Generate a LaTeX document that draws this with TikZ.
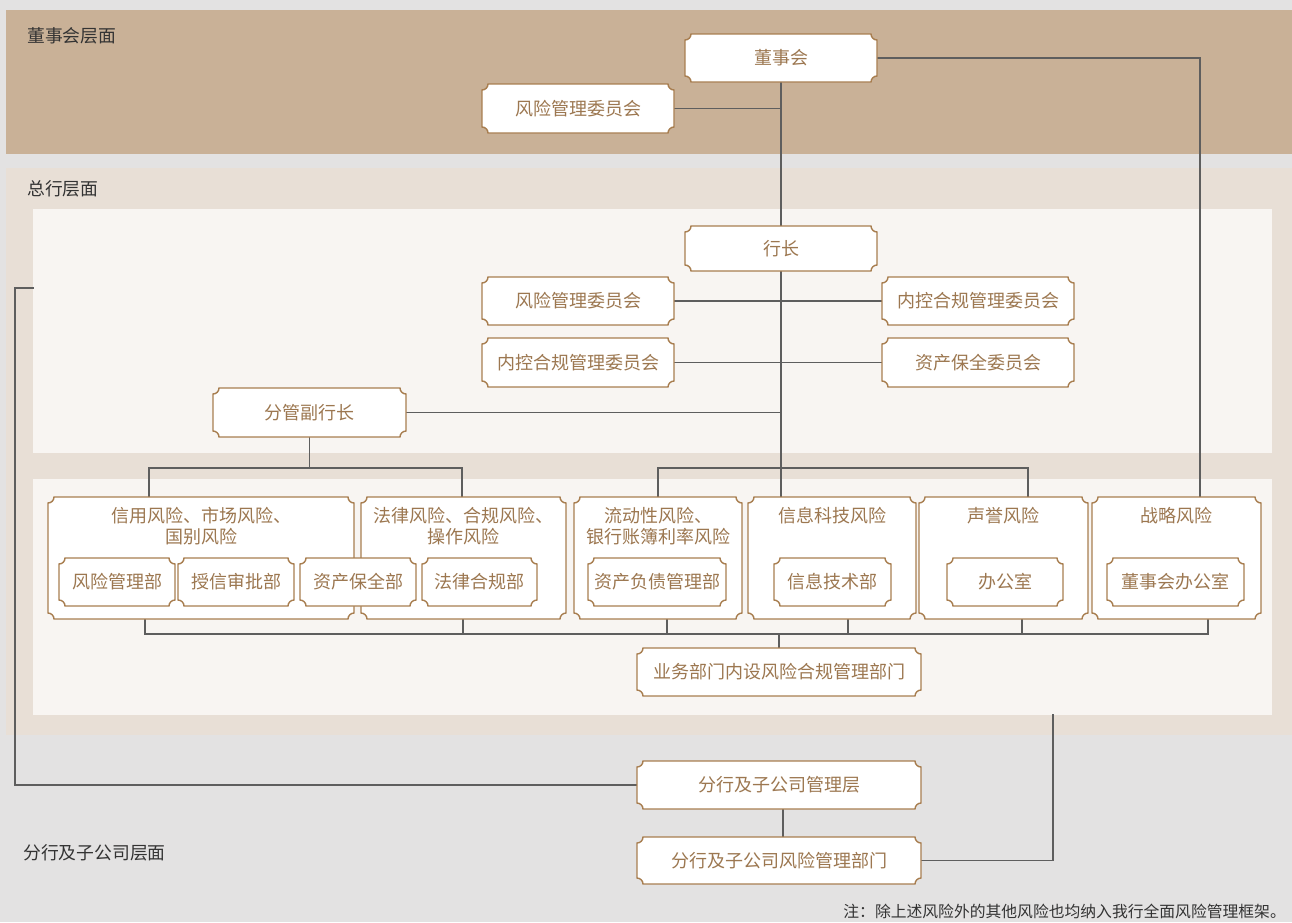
\documentclass[tikz,border=0pt]{standalone}
\usepackage{fontspec}
\setmainfont{Noto Sans CJK SC}
\usetikzlibrary{calc}
\definecolor{pagebg}{HTML}{E3E2E2}
\definecolor{boardbg}{HTML}{C9B197}
\definecolor{hqbg}{HTML}{E8DFD6}
\definecolor{panelbg}{HTML}{F8F5F2}
\definecolor{bxline}{HTML}{A87E50}
\definecolor{bxtext}{HTML}{9C7750}
\definecolor{conn}{HTML}{5E5E5E}
\definecolor{lbl}{HTML}{333333}
\pgfdeclarelayer{bg}
\pgfdeclarelayer{lines}
\pgfdeclarelayer{boxes}
\pgfsetlayers{bg,lines,boxes,main}
\tikzset{
  bx/.style={rectangle, inner sep=0pt, outer sep=0pt, text=bxtext, font=\fontsize{18}{21}\selectfont, align=center},
  cat/.style={rectangle, inner sep=0pt, outer sep=0pt},
  ttl/.style={inner sep=0pt, text=bxtext, font=\fontsize{18}{21}\selectfont, align=center},
  tktbox/.style={draw=bxline, line width=1.4pt, fill=white},
  connector/.style={draw=conn, line width=1.25pt},
  levellabel/.style={inner sep=0pt, anchor=west, text=lbl, font=\fontsize{17.8}{21}\selectfont},
}
\newcommand\tkt[1]{\path[tktbox, x=1pt, y=1pt] let \p1=(#1.south west), \p2=(#1.north east) in
  (\x1+6pt,\y1) -- (\x2-6pt,\y1) arc[start angle=180,end angle=90,radius=6pt]
  -- (\x2,\y2-6pt) arc[start angle=270,end angle=180,radius=6pt]
  -- (\x1+6pt,\y2) arc[start angle=0,end angle=-90,radius=6pt]
  -- (\x1,\y1+6pt) arc[start angle=90,end angle=0,radius=6pt] -- cycle;}
\begin{document}
\begin{tikzpicture}[x=1pt,y=-1pt]
\useasboundingbox (0,0) rectangle (1292,922);
\begin{pgfonlayer}{bg}
\fill[pagebg] (0,0) rectangle (1292,922);
\fill[boardbg] (6,10) rectangle (1292,154);
\fill[hqbg] (6,168) rectangle (1292,735);
\fill[panelbg] (33,209) rectangle (1272,453);
\fill[panelbg] (33,479) rectangle (1272,715);
\end{pgfonlayer}

% level labels
\node[levellabel] (lv1) at (27,36) {董事会层面};
\node[levellabel] (lv2) at (27,189) {总行层面};
\node[levellabel] (lv3) at (23,853) {分行及子公司层面};

% board
\node[bx, minimum width=192, minimum height=48] (dsh) at (781,58) {董事会};
\node[bx, minimum width=192, minimum height=49] (rc1) at (578,108.5) {风险管理委员会};
% head office
\node[bx, minimum width=192, minimum height=45] (hz) at (781,248.5) {行长};
\node[bx, minimum width=192, minimum height=48] (rc2) at (578,301) {风险管理委员会};
\node[bx, minimum width=192, minimum height=48] (nk2) at (978,301) {内控合规管理委员会};
\node[bx, minimum width=192, minimum height=49] (nk3) at (578,362.5) {内控合规管理委员会};
\node[bx, minimum width=192, minimum height=49] (zb) at (978,362.5) {资产保全委员会};
\node[bx, minimum width=193, minimum height=49] (fg) at (309.5,412.5) {分管副行长};

% category boxes
\node[cat, minimum width=306, minimum height=122] (c1) at (201,558) {};
\node[cat, minimum width=205, minimum height=122] (c2) at (463.5,558) {};
\node[cat, minimum width=168, minimum height=122] (c3) at (658,558) {};
\node[cat, minimum width=168, minimum height=122] (c4) at (832,558) {};
\node[cat, minimum width=169, minimum height=122] (c5) at (1003.5,558) {};
\node[cat, minimum width=169, minimum height=122] (c6) at (1176.5,558) {};
\node[ttl] (t1) at (201,526.5) {信用风险、市场风险、\\国别风险};
\node[ttl] (t2) at (463.5,526.5) {法律风险、合规风险、\\操作风险};
\node[ttl] (t3) at (658,526.5) {流动性风险、\\银行账簿利率风险};
\node[ttl] (t4) at (832,516) {信息科技风险};
\node[ttl] (t5) at (1003.5,516) {声誉风险};
\node[ttl] (t6) at (1176.5,516) {战略风险};

% sub boxes
\node[bx, minimum width=116, minimum height=48] (s1) at (117,582) {风险管理部};
\node[bx, minimum width=116, minimum height=48] (s2) at (236,582) {授信审批部};
\node[bx, minimum width=116, minimum height=48] (s3) at (358,582) {资产保全部};
\node[bx, minimum width=115, minimum height=48] (s4) at (479.5,582) {法律合规部};
\node[bx, minimum width=138, minimum height=48] (s5) at (657,582) {资产负债管理部};
\node[bx, minimum width=117, minimum height=48] (s6) at (832.5,582) {信息技术部};
\node[bx, minimum width=116, minimum height=48] (s7) at (1005,582) {办公室};
\node[bx, minimum width=137, minimum height=48] (s8) at (1175.5,582) {董事会办公室};

\node[bx, minimum width=284, minimum height=48] (yw) at (779,672) {业务部门内设风险合规管理部门};
% branch level
\node[bx, minimum width=284, minimum height=48] (gl) at (779,785) {分行及子公司管理层};
\node[bx, minimum width=284, minimum height=47] (gr) at (779,860.5) {分行及子公司风险管理部门};

\node[inner sep=0pt, anchor=east, text=lbl, font=\fontsize{15.8}{18}\selectfont] (note) at (1286,911) {注：除上述风险外的其他风险也均纳入我行全面风险管理框架。};

% box outlines
\begin{pgfonlayer}{boxes}
\foreach \nm in {dsh,rc1,hz,rc2,nk2,nk3,zb,fg,c1,c2,c3,c4,c5,c6,s1,s2,s3,s4,s5,s6,s7,s8,yw,gl,gr} {\tkt{\nm}}
\end{pgfonlayer}

% connectors
\coordinate (zlt) at (1200,497);
\coordinate (b1) at (149,468);
\coordinate (b2) at (462,468);
\coordinate (b4) at (1028,468);
\coordinate (d1) at (145,634);
\coordinate (d2) at (463,634);
\coordinate (d3) at (667,634);
\coordinate (d4) at (848,634);
\coordinate (d5) at (1022,634);
\coordinate (d6) at (1208,634);
\coordinate (gm) at (783,800);
\coordinate (pr) at (1053,714);
\coordinate (pl0) at (15,288);
\coordinate (pl) at (34,288);
\begin{pgfonlayer}{lines}
\draw[connector] (dsh.south) -- (hz.north);
\draw[connector] (rc1.east) -- (rc1.east -| dsh.south);
\draw[connector] (dsh.east) -| (zlt);
\draw[connector] (hz.south) -- (hz.south |- c4.north);
\draw[connector] (rc2.east) -- (nk2.west);
\draw[connector] (nk3.east) -- (zb.west);
\draw[connector] (fg.east) -- (fg.east -| hz.south);
\draw[connector] (fg.south) -- (fg.south |- b1);
\draw[connector] (b1 |- c1.north) -- (b1) -- (b2) -- (b2 |- c2.north);
\draw[connector] (c3.north) |- (b4) -- (b4 |- c5.north);
\draw[connector] (d1 |- c1.south) -- (d1) -- (d6) -- (d6 |- c6.south);
\draw[connector] (d2 |- c2.south) -- (d2);
\draw[connector] (d3 |- c3.south) -- (d3);
\draw[connector] (d4 |- c4.south) -- (d4);
\draw[connector] (d5 |- c5.south) -- (d5);
\draw[connector] (yw.north |- d1) -- (yw.north);
\draw[connector] (gm |- gl.south) -- (gm |- gr.north);
\draw[connector] (gr.east) -| (pr);
\draw[connector] (gl.west) -| (pl0) -- (pl);
\end{pgfonlayer}
\end{tikzpicture}
\end{document}
